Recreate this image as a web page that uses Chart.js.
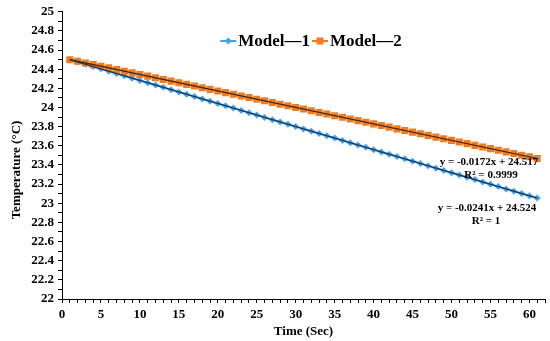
<!DOCTYPE html>
<html>
<head>
<meta charset="utf-8">
<script src="https://cdn.jsdelivr.net/npm/chart.js@4.4.1/dist/chart.umd.min.js"></script>
<style>
  html, body { margin: 0; padding: 0; background: #fff; }
  #wrap { width: 550px; height: 341px; position: relative; }
</style>
</head>
<body>
<div id="wrap"><canvas id="chartRef"></canvas></div>
<script>
// time (s)
const timeSec = [1, 2, 3, 4, 5, 6, 7, 8, 9, 10, 11, 12, 13, 14, 15, 16, 17, 18, 19, 20,
  21, 22, 23, 24, 25, 26, 27, 28, 29, 30, 31, 32, 33, 34, 35, 36, 37, 38, 39, 40,
  41, 42, 43, 44, 45, 46, 47, 48, 49, 50, 51, 52, 53, 54, 55, 56, 57, 58, 59, 60, 61];

const model1 = [24.500, 24.476, 24.452, 24.428, 24.404, 24.379, 24.355, 24.331, 24.307, 24.283,
  24.259, 24.235, 24.211, 24.187, 24.163, 24.138, 24.114, 24.090, 24.066, 24.042,
  24.018, 23.994, 23.970, 23.946, 23.922, 23.897, 23.873, 23.849, 23.825, 23.801,
  23.777, 23.753, 23.729, 23.705, 23.681, 23.656, 23.632, 23.608, 23.584, 23.560,
  23.536, 23.512, 23.488, 23.464, 23.440, 23.415, 23.391, 23.367, 23.343, 23.319,
  23.295, 23.271, 23.247, 23.223, 23.199, 23.174, 23.150, 23.126, 23.102, 23.078, 23.054];

const model2 = [24.500, 24.483, 24.465, 24.448, 24.431, 24.414, 24.397, 24.379, 24.362, 24.345,
  24.328, 24.311, 24.293, 24.276, 24.259, 24.242, 24.225, 24.207, 24.190, 24.173,
  24.156, 24.139, 24.121, 24.104, 24.087, 24.070, 24.053, 24.035, 24.018, 24.001,
  23.984, 23.967, 23.949, 23.932, 23.915, 23.898, 23.881, 23.863, 23.846, 23.829,
  23.812, 23.795, 23.777, 23.760, 23.743, 23.726, 23.709, 23.691, 23.674, 23.657,
  23.640, 23.623, 23.605, 23.588, 23.571, 23.554, 23.537, 23.519, 23.502, 23.485, 23.468];

// linear trendline end points
const trendX = [1, 61];
const trend1 = [24.500, 23.054];
const trend2 = [24.500, 23.468];

const xTickLabels = [0, 5, 10, 15, 20, 25, 30, 35, 40, 45, 50, 55, 60];
const yTickLabels = [22, 22.2, 22.4, 22.6, 22.8, 23, 23.2, 23.4, 23.6, 23.8, 24, 24.2, 24.4, 24.6, 24.8, 25];

const seriesNames = ["Model\u20141", "Model\u20142"];
const eq1 = ["y = -0.0241x + 24.524", "R\u00b2 = 1"];
const eq2 = ["y = -0.0172x + 24.517", "R\u00b2 = 0.9999"];

const BLUE = "#3fa4f0";
const ORANGE = "#f07c22";
const SERIF = "'Liberation Serif', 'Times New Roman', serif";

const toPoints = (xs, ys) => xs.map((x, i) => ({ x: x, y: ys[i] }));

// titles, legend and trendline equations
const extrasPlugin = {
    id: "extras",
    afterDraw(chart) {
        const ctx = chart.ctx;
        ctx.save();
        ctx.fillStyle = "#000";
        ctx.textBaseline = "middle";

        // y axis title
        ctx.save();
        ctx.translate(17, 170);
        ctx.rotate(-Math.PI / 2);
        ctx.textAlign = "center";
        ctx.font = "bold 13px " + SERIF;
        ctx.fillText("Temperature (\u00b0C)", 0, 0);
        ctx.restore();

        // legend
        ctx.font = "bold 17px " + SERIF;
        const w1 = ctx.measureText(seriesNames[0]).width;
        const w2 = ctx.measureText(seriesNames[1]).width;
        const sym = 18;
        const total = sym + w1 + 2 + sym + w2;
        let lx = 311 - total / 2;
        const ly = 41;
        const drawSym = (x, color, style) => {
            ctx.strokeStyle = color;
            ctx.lineWidth = 2;
            ctx.beginPath();
            ctx.moveTo(x, ly);
            ctx.lineTo(x + sym - 2, ly);
            ctx.stroke();
            ctx.fillStyle = color;
            const cx = x + (sym - 2) / 2;
            if (style === "square") {
                ctx.fillRect(cx - 3.5, ly - 3.5, 7, 7);
            } else {
                ctx.beginPath();
                ctx.moveTo(cx, ly - 3.5);
                ctx.lineTo(cx + 3.5, ly);
                ctx.lineTo(cx, ly + 3.5);
                ctx.lineTo(cx - 3.5, ly);
                ctx.closePath();
                ctx.fill();
            }
        };
        ctx.textAlign = "left";
        drawSym(lx, BLUE, "diamond");
        ctx.fillStyle = "#000";
        ctx.fillText(seriesNames[0], lx + sym, ly + 1);
        lx += sym + w1 + 2;
        drawSym(lx, ORANGE, "square");
        ctx.fillStyle = "#000";
        ctx.fillText(seriesNames[1], lx + sym, ly + 1);

        // trendline equations
        ctx.font = "bold 11px " + SERIF;
        ctx.textAlign = "center";
        ctx.fillText(eq2[0], 489, 162);
        ctx.fillText(eq2[1], 491, 175);
        ctx.fillText(eq1[0], 487, 208);
        ctx.fillText(eq1[1], 486, 221);
        ctx.restore();
    }
};

const tickFont = { family: SERIF, size: 13, weight: "bold" };

new Chart(document.getElementById("chartRef"), {
    type: "scatter",
    data: {
        datasets: [
            {
                label: "trend1",
                data: toPoints(trendX, trend1),
                showLine: true,
                borderColor: "#1d3557",
                borderWidth: 1.2,
                pointRadius: 0,
                order: 0
            },
            {
                label: "trend2",
                data: toPoints(trendX, trend2),
                showLine: true,
                borderColor: "#3a2212",
                borderWidth: 1.2,
                pointRadius: 0,
                order: 0
            },
            {
                label: seriesNames[1],
                data: toPoints(timeSec, model2),
                showLine: true,
                borderColor: ORANGE,
                borderWidth: 2,
                backgroundColor: ORANGE,
                pointStyle: "rect",
                pointRadius: 5,
                pointBorderWidth: 0,
                order: 1
            },
            {
                label: seriesNames[0],
                data: toPoints(timeSec, model1),
                showLine: true,
                borderColor: BLUE,
                borderWidth: 2,
                backgroundColor: BLUE,
                pointStyle: "rectRot",
                pointRadius: 3.5,
                pointBorderWidth: 0,
                order: 2
            }
        ]
    },
    options: {
        responsive: true,
        maintainAspectRatio: false,
        animation: false,
        layout: { padding: { left: 0, right: 5, top: 11, bottom: 0 } },
        plugins: {
            legend: { display: false },
            tooltip: { enabled: false }
        },
        scales: {
            x: {
                type: "linear",
                min: 0,
                max: 62,
                afterBuildTicks: axis => {
                    const t = [];
                    for (let v = 0; v <= 62; v++) t.push({ value: v });
                    axis.ticks = t;
                },
                afterFit: axis => { axis.height = 42; },
                ticks: {
                    autoSkip: false,
                    maxRotation: 0,
                    padding: 4,
                    color: "#000",
                    font: tickFont,
                    callback: v => xTickLabels.includes(v) ? String(v) : ""
                },
                grid: { drawOnChartArea: false, tickLength: 4, color: "#000" },
                border: { color: "#000", width: 1 },
                title: {
                    display: true,
                    text: "Time (Sec)",
                    color: "#000",
                    font: { family: SERIF, size: 13, weight: "bold" },
                    padding: { top: 0, bottom: 2 }
                }
            },
            y: {
                min: 22,
                max: 25,
                afterBuildTicks: axis => {
                    const t = [];
                    for (let i = 0; i <= 30; i++) t.push({ value: Math.round((22 + i * 0.1) * 10) / 10 });
                    axis.ticks = t;
                },
                afterFit: axis => { axis.width = 62; },
                ticks: {
                    autoSkip: false,
                    padding: 4,
                    color: "#000",
                    font: tickFont,
                    callback: v => yTickLabels.some(l => Math.abs(l - v) < 1e-6) ? String(v) : ""
                },
                grid: { drawOnChartArea: false, tickLength: 4, color: "#000" },
                border: { color: "#000", width: 1 }
            }
        }
    },
    plugins: [extrasPlugin]
});
</script>
</body>
</html>
